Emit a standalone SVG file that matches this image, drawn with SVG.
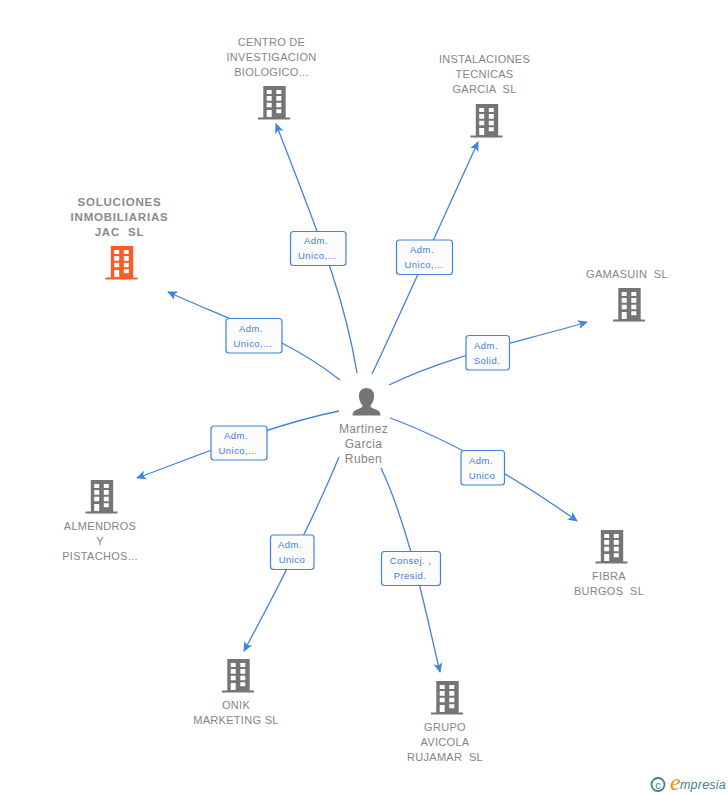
<svg xmlns="http://www.w3.org/2000/svg" width="728" height="795" viewBox="0 0 728 795">
<style>
.t{font-family:"Liberation Sans",Arial,sans-serif;font-size:11px;fill:#858585;text-anchor:middle;letter-spacing:.3px}
.b{font-weight:bold;fill:#8a8a8a;letter-spacing:.8px;font-size:11.500px}
.p{font-size:12px;letter-spacing:.4px}
.l{font-family:"Liberation Sans",Arial,sans-serif;font-size:9.500px;fill:#3b7fd9;text-anchor:middle;letter-spacing:.45px}
.e{fill:none;stroke:#3f83e0;stroke-width:1.300}
.r{fill:#fbfbfb;stroke:#3f83e0;stroke-width:1.200}
</style>
<defs>
<marker id="a" markerWidth="12" markerHeight="10" refX="9" refY="5" orient="auto" markerUnits="userSpaceOnUse"><path d="M0,0.500L10,5L0,9.500L2.500,5Z" fill="#3f83e0"/></marker>
<path id="bd" fill-rule="evenodd" d="M-10.700,0H11.700V31.500H16V33.500H-16V31.500H-10.700ZM-7.300,4V8H-2.300V4ZM2.300,4V8H7.300V4ZM-7.300,10V14.700H-2.300V10ZM2.300,10V14.700H7.300V10ZM-7.300,16.700V21.300H-2.300V16.700ZM2.300,16.700V21.300H7.300V16.700ZM-7.300,24V31H-2.300V24ZM2.300,23.300V27.300H7.300V23.300Z"/>
</defs>
<g id="connectors">
<path class="e" marker-end="url(#a)" d="M357,373C345,300 325,250 276,124"/>
<path class="e" marker-end="url(#a)" d="M372,374C400,315 440,225 478,142"/>
<path class="e" marker-end="url(#a)" d="M389,385C450,355 520,342 587,322"/>
<path class="e" marker-end="url(#a)" d="M390,418C450,440 520,480 577,521"/>
<path class="e" marker-end="url(#a)" d="M381,468C410,530 425,610 440,672"/>
<path class="e" marker-end="url(#a)" d="M339,457C315,515 285,575 244,651"/>
<path class="e" marker-end="url(#a)" d="M339,411C270,425 200,455 137,478"/>
<path class="e" marker-end="url(#a)" d="M340,380C290,340 230,320 168,292"/>
</g>
<g id="edge-labels">
<g><rect class="r" x="290.500" y="231.500" width="55.500" height="34" rx="3"/><text class="l" x="316" y="244">Adm.</text><text class="l" x="317.500" y="259">Unico,...</text></g>
<g><rect class="r" x="396.500" y="240" width="56" height="34.500" rx="3"/><text class="l" x="422" y="253">Adm.</text><text class="l" x="424" y="268">Unico,...</text></g>
<g><rect class="r" x="466" y="335.500" width="43.500" height="34.500" rx="3"/><text class="l" x="486" y="349">Adm.</text><text class="l" x="487" y="364">Solid.</text></g>
<g><rect class="r" x="461" y="450.500" width="43.500" height="34.500" rx="3"/><text class="l" x="481" y="464">Adm.</text><text class="l" x="482" y="479">Unico</text></g>
<g><rect class="r" x="381.500" y="551.500" width="59" height="34" rx="3"/><text class="l" x="410.500" y="564">Consej. ,</text><text class="l" x="410" y="579">Presid.</text></g>
<g><rect class="r" x="270.500" y="535" width="43.500" height="34.500" rx="3"/><text class="l" x="290" y="548">Adm.</text><text class="l" x="292" y="563">Unico</text></g>
<g><rect class="r" x="211" y="426" width="56" height="34" rx="3"/><text class="l" x="236" y="439">Adm.</text><text class="l" x="238" y="454">Unico,...</text></g>
<g><rect class="r" x="226" y="318.500" width="56" height="34.500" rx="3"/><text class="l" x="251" y="332">Adm.</text><text class="l" x="253" y="347">Unico,...</text></g>
</g>
<g id="center">
<path fill="#757575" d="M366.500,388C361,388 358.500,392 359,397C359.300,401 361,403.500 362.500,405.500C362.500,407.500 361,408 357,409.500C354,410.700 352.500,412 352.500,415.500H380.500C380.500,412 379,410.700 376,409.500C372,408 370.500,407.500 370.500,405.500C372,403.500 373.700,401 374,397C374.500,392 372,388 366.500,388Z"/>
<text class="t p" x="363.500" y="433">Martinez</text><text class="t p" x="363.500" y="448">Garcia</text><text class="t p" x="363.500" y="463">Ruben</text>
</g>
<g id="n1" fill="#757575"><use href="#bd" x="274" y="86"/><text class="t" x="271.500" y="46">CENTRO DE</text><text class="t" x="271.500" y="61">INVESTIGACION</text><text class="t" x="271.500" y="76">BIOLOGICO...</text></g>
<g id="n2" fill="#757575"><use href="#bd" x="486.500" y="104"/><text class="t" x="484.500" y="63">INSTALACIONES</text><text class="t" x="484.500" y="78">TECNICAS</text><text class="t" x="484.500" y="93" xml:space="preserve">GARCIA  SL</text></g>
<g id="n3" fill="#757575"><use href="#bd" x="629" y="288"/><text class="t" x="627" y="278" xml:space="preserve">GAMASUIN  SL</text></g>
<g id="n4" fill="#757575"><use href="#bd" x="611.500" y="530"/><text class="t" x="609" y="580">FIBRA</text><text class="t" x="609" y="595" xml:space="preserve">BURGOS  SL</text></g>
<g id="n5" fill="#757575"><use href="#bd" x="447" y="681"/><text class="t" x="445" y="731">GRUPO</text><text class="t" x="445" y="746">AVICOLA</text><text class="t" x="445" y="761" xml:space="preserve">RUJAMAR  SL</text></g>
<g id="n6" fill="#757575"><use href="#bd" x="238" y="659"/><text class="t" x="236" y="709">ONIK</text><text class="t" x="236" y="724">MARKETING SL</text></g>
<g id="n7" fill="#757575"><use href="#bd" x="101.500" y="480"/><text class="t" x="100" y="530">ALMENDROS</text><text class="t" x="100" y="545">Y</text><text class="t" x="100" y="560">PISTACHOS...</text></g>
<g id="n8" fill="#ff5a26"><use href="#bd" x="121.500" y="246"/><text class="t b" x="119.500" y="206">SOLUCIONES</text><text class="t b" x="119.500" y="221">INMOBILIARIAS</text><text class="t b" x="119.500" y="236" xml:space="preserve">JAC  SL</text></g>
<g id="logo">
<circle cx="658" cy="784.500" r="6.500" fill="none" stroke="#3d7f93" stroke-width="1.800"/>
<text x="658" y="788.500" font-family="'Liberation Sans',sans-serif" font-size="11" fill="#3d7f93" text-anchor="middle">c</text>
<text x="670" y="790" font-family="'Liberation Serif',serif" font-style="italic" font-size="24" fill="#f08a1d">e</text>
<text x="680" y="789" font-family="'Liberation Sans',sans-serif" font-style="italic" font-size="12.500" fill="#3d7f93" letter-spacing=".2">mpresia</text>
</g>
</svg>
